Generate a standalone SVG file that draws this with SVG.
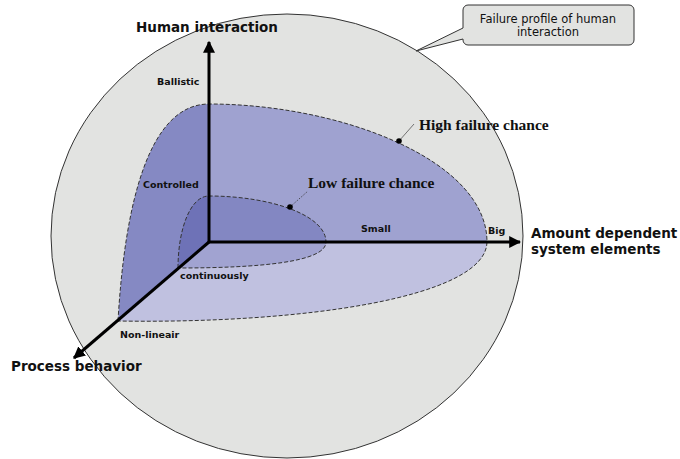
<svg xmlns="http://www.w3.org/2000/svg" width="680" height="459" viewBox="0 0 680 459">
  <style>
    .sans { font-family: "DejaVu Sans", Verdana, sans-serif; fill: #111; }
    .axis-title { font-size: 13.5px; font-weight: bold; }
    .tick { font-size: 9.5px; font-weight: bold; }
    .serif { font-family: "Liberation Serif", "Times New Roman", serif; font-size: 15.5px; font-weight: bold; fill: #111; }
    .edge { fill: none; stroke: #333; stroke-width: 1; stroke-dasharray: 4 2; }
    .axis { stroke: #000; stroke-width: 3; fill: none; }
  </style>
  <defs>
    <marker id="arrow" viewBox="0 0 10 10" refX="9" refY="5" markerWidth="4" markerHeight="4" markerUnits="strokeWidth" orient="auto">
      <path d="M0,0 L10,5 L0,10 Z" fill="#000"/>
    </marker>
  </defs>

  <!-- overall profile sphere -->
  <g id="profile">
    <ellipse cx="287" cy="236" rx="236" ry="222" fill="#e2e3e1" stroke="#333" stroke-width="1"/>
  </g>

  <!-- high failure chance volume -->
  <g id="high-region">
    <path d="M209,242 L209,104 C340,104 487,160 487,242 Z" fill="#9fa2d0"/>
    <path d="M209,242 L209,104 C150,104 125,200 118,321 Z" fill="#8589c3"/>
    <path d="M209,242 L487,242 C486,298 300,324 118,321 Z" fill="#c0c1e0"/>
    <path class="edge" d="M118,321 C125,200 150,104 209,104 C340,104 487,160 487,242 C486,298 300,324 118,321"/>
  </g>

  <!-- low failure chance volume -->
  <g id="low-region">
    <path d="M209,242 L209,196 C270,196 326,215 326,242 Z" fill="#8387c2"/>
    <path d="M209,242 L209,196 C190,196 178,230 178,268 Z" fill="#6e72b7"/>
    <path d="M209,242 L326,242 C326,262 260,268 178,268 Z" fill="#a1a3d1"/>
    <path class="edge" d="M178,268 C178,230 190,196 209,196 C270,196 326,215 326,242 C326,262 260,268 178,268"/>
  </g>

  <!-- axes and leaders -->
  <g id="connectors">
    <line class="axis" x1="209" y1="243" x2="209" y2="42" marker-end="url(#arrow)"/>
    <line class="axis" x1="208" y1="242" x2="520" y2="242" marker-end="url(#arrow)"/>
    <line class="axis" x1="209" y1="242" x2="74" y2="358" marker-end="url(#arrow)"/>
    <line x1="399" y1="141" x2="414" y2="124" stroke="#555" stroke-width="0.8"/>
    <circle cx="399" cy="141" r="2.8" fill="#000"/>
    <line x1="290" y1="207" x2="308" y2="191" stroke="#333" stroke-width="0.8" stroke-dasharray="1.5 1.5"/>
    <circle cx="290" cy="207" r="2.8" fill="#000"/>
    <path d="M463,28 L416,51 L463,39" fill="#e2e3e1" stroke="#333" stroke-width="1"/>
  </g>

  <!-- callout -->
  <g id="callout">
    <path d="M463,28 V10 a5,5 0 0 1 5,-5 H629 a5,5 0 0 1 5,5 V40 a5,5 0 0 1 -5,5 H468 a5,5 0 0 1 -5,-5 V39" fill="#e2e3e1" stroke="#333" stroke-width="1"/>
    <text class="sans" x="548" y="22.5" font-size="11.5" text-anchor="middle">Failure profile of human</text>
    <text class="sans" x="548" y="36" font-size="11.5" text-anchor="middle">interaction</text>
  </g>

  <!-- labels -->
  <g id="labels">
    <text class="sans axis-title" x="136" y="32">Human interaction</text>
    <text class="sans axis-title" x="531" y="238">Amount dependent</text>
    <text class="sans axis-title" x="531" y="254">system elements</text>
    <text class="sans axis-title" x="11" y="371">Process behavior</text>
    <text class="sans tick" x="157" y="85">Ballistic</text>
    <text class="sans tick" x="143" y="188">Controlled</text>
    <text class="sans tick" x="180" y="279">continuously</text>
    <text class="sans tick" x="120" y="338">Non-lineair</text>
    <text class="sans tick" x="361" y="232">Small</text>
    <text class="sans tick" x="488" y="234">Big</text>
    <text class="serif" x="419" y="130">High failure chance</text>
    <text class="serif" x="308" y="188">Low failure chance</text>
  </g>
</svg>
